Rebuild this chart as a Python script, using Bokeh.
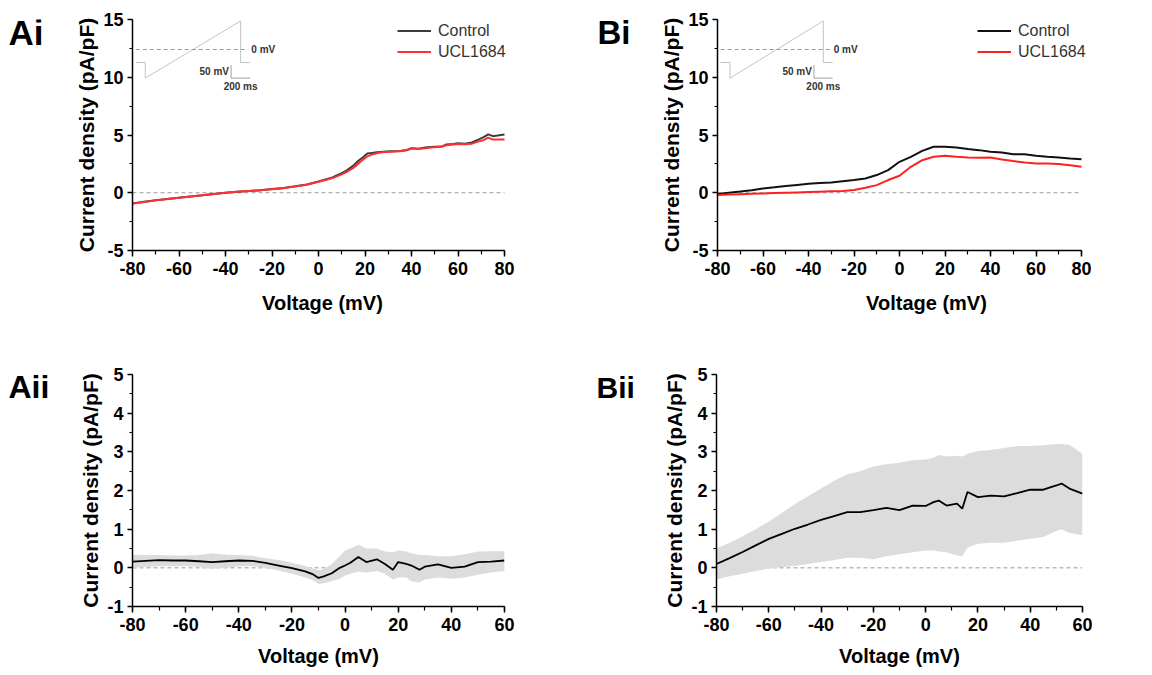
from bokeh.plotting import figure
from bokeh.layouts import column, row
from bokeh.models import Label, SingleIntervalTicker, PrintfTickFormatter
from bokeh.embed import file_html
from bokeh.resources import INLINE

FONT = "Liberation Sans"

# ---------------- data ----------------
# Panel Ai : voltage (mV) and current density (pA/pF)
ai_v = [-80, -75, -70, -65, -60, -55, -50, -45, -40, -35, -30, -25, -20, -15, -10, -5, 0, 3, 6, 9,
        12, 15, 17, 19, 21, 23, 25, 28, 31, 35, 38, 40, 43, 46, 50, 53, 55, 58, 60, 63, 66, 69,
        71, 73, 75, 77, 80]
ai_control = [-0.92, -0.78, -0.65, -0.54, -0.43, -0.32, -0.22, -0.1, 0.0, 0.08, 0.15, 0.22, 0.32,
              0.42, 0.56, 0.72, 0.98, 1.15, 1.32, 1.6, 1.92, 2.35, 2.75, 3.05, 3.4, 3.45, 3.5,
              3.55, 3.6, 3.62, 3.7, 3.85, 3.82, 3.92, 3.98, 4.0, 4.18, 4.22, 4.28, 4.25, 4.35,
              4.62, 4.82, 5.05, 4.9, 4.95, 5.05]
ai_ucl = [-0.95, -0.8, -0.66, -0.55, -0.44, -0.33, -0.22, -0.11, 0.0, 0.08, 0.15, 0.22, 0.31,
          0.4, 0.54, 0.7, 0.95, 1.1, 1.27, 1.5, 1.78, 2.15, 2.5, 2.85, 3.15, 3.3, 3.42, 3.52,
          3.55, 3.6, 3.68, 3.85, 3.78, 3.85, 3.95, 3.98, 4.12, 4.18, 4.22, 4.2, 4.25, 4.45,
          4.55, 4.78, 4.6, 4.62, 4.62]

# Panel Bi
bi_v = [-80, -75, -70, -65, -60, -55, -50, -45, -40, -35, -30, -25, -20, -15, -10, -5, 0,
        5, 10, 15, 20, 25, 30, 35, 40, 45, 50, 55, 60, 65, 70, 75, 80]
bi_control = [-0.1, 0.0, 0.1, 0.22, 0.37, 0.47, 0.58, 0.68, 0.78, 0.84, 0.89, 1.0, 1.1, 1.24,
              1.53, 1.96, 2.68, 3.11, 3.63, 3.98, 3.98, 3.92, 3.78, 3.69, 3.54, 3.49, 3.34,
              3.34, 3.2, 3.11, 3.05, 2.97, 2.91]
bi_ucl = [-0.2, -0.15, -0.12, -0.09, -0.06, -0.03, 0.0, 0.03, 0.06, 0.09, 0.12, 0.15, 0.23,
          0.43, 0.66, 1.1, 1.47, 2.25, 2.82, 3.11, 3.2, 3.11, 3.05, 3.03, 3.05, 2.88, 2.74,
          2.62, 2.54, 2.54, 2.48, 2.39, 2.25]

# Panel Aii : difference current, mean and SEM band
aii_v = [-80, -75, -70, -65, -60, -55, -50, -45, -40, -35, -30, -25, -20, -15, -12, -10, -8,
         -5, -2, 0, 2, 5, 8, 12, 15, 18, 20, 23, 25, 28, 30, 35, 40, 45, 50, 55, 60]
aii_mean = [0.16, 0.18, 0.2, 0.19, 0.19, 0.17, 0.15, 0.17, 0.19, 0.18, 0.13, 0.06, -0.01, -0.09,
            -0.17, -0.26, -0.22, -0.14, 0.0, 0.06, 0.13, 0.28, 0.15, 0.22, 0.1, -0.05, 0.15,
            0.1, 0.06, -0.05, 0.03, 0.09, 0.0, 0.03, 0.15, 0.16, 0.19]
aii_upper = [0.33, 0.33, 0.33, 0.32, 0.32, 0.33, 0.38, 0.34, 0.33, 0.31, 0.25, 0.2, 0.13, 0.05,
             -0.02, -0.06, -0.03, 0.1, 0.3, 0.45, 0.5, 0.6, 0.5, 0.5, 0.42, 0.4, 0.45, 0.42,
             0.38, 0.33, 0.33, 0.3, 0.3, 0.35, 0.42, 0.43, 0.43]
aii_lower = [0.0, 0.02, 0.04, 0.04, 0.04, 0.02, -0.03, 0.0, 0.04, 0.04, 0.0, -0.07, -0.15,
             -0.25, -0.32, -0.42, -0.4, -0.35, -0.28, -0.2, -0.15, -0.1, -0.12, -0.08, -0.15,
             -0.3, -0.25, -0.25, -0.35, -0.38, -0.3, -0.25, -0.28, -0.25, -0.18, -0.12, -0.08]

# Panel Bii
bii_v = [-80, -75, -70, -65, -60, -55, -50, -45, -40, -35, -30, -25, -20, -15, -10, -5, 0, 3,
         5, 8, 12, 14, 16, 20, 25, 30, 35, 40, 45, 50, 52, 55, 60]
bii_mean = [0.1, 0.25, 0.41, 0.58, 0.75, 0.88, 1.01, 1.12, 1.24, 1.34, 1.44, 1.44, 1.49, 1.55,
            1.49, 1.61, 1.6, 1.7, 1.74, 1.61, 1.66, 1.53, 1.96, 1.83, 1.87, 1.85, 1.93, 2.02,
            2.02, 2.13, 2.18, 2.05, 1.92]
bii_upper = [0.5, 0.65, 0.82, 1.0, 1.2, 1.42, 1.65, 1.85, 2.05, 2.25, 2.42, 2.5, 2.62, 2.68,
             2.72, 2.78, 2.8, 2.85, 2.92, 2.88, 2.9, 2.88, 2.95, 3.02, 3.05, 3.1, 3.15, 3.15,
             3.17, 3.2, 3.2, 3.18, 2.95]
bii_lower = [-0.3, -0.22, -0.15, -0.08, -0.02, 0.02, 0.05, 0.1, 0.15, 0.2, 0.26, 0.26, 0.22,
             0.3, 0.35, 0.4, 0.45, 0.45, 0.42, 0.4, 0.32, 0.3, 0.52, 0.62, 0.65, 0.65, 0.7,
             0.75, 0.8, 0.95, 1.0, 0.9, 0.84]

# Voltage protocol shown in the insets (time in ms, voltage in mV)
proto_t = [0, 100, 100, 1100, 1100, 1200]
proto_v = [-50, -50, -110, 110, -50, -50]
scalebar_t = [1000, 1000, 1200]
scalebar_v = [-60, -110, -110]

panel_labels = ["Ai", "Bi", "Aii", "Bii"]
series_names = ["Control", "UCL1684"]
y_label = "Current density (pA/pF)"
x_label = "Voltage (mV)"

top_x = (-80, 80)
top_y = (-5, 15)
bot_x = (-80, 60)
bot_y = (-1, 5)


def make_fig(width, height, left, right, top, bottom, xbounds, xend, yr, yint, xstandoff):
    p = figure(width=width, height=height, x_range=(xbounds[0], xend), y_range=yr,
               output_backend="svg", toolbar_location=None,
               min_border_left=left, min_border_right=right,
               min_border_top=top, min_border_bottom=bottom)
    p.outline_line_color = None
    p.grid.visible = False
    p.background_fill_color = "white"
    p.border_fill_color = "white"
    p.xaxis.bounds = xbounds
    p.xaxis.ticker = SingleIntervalTicker(interval=20, num_minor_ticks=2)
    p.yaxis.ticker = SingleIntervalTicker(interval=yint, num_minor_ticks=2)
    for ax in (p.xaxis, p.yaxis):
        ax.formatter = PrintfTickFormatter(format="%d")
        ax.axis_line_width = 1.5
        ax.axis_line_color = "black"
        ax.major_tick_line_width = 1.5
        ax.minor_tick_line_width = 1.2
        ax.major_tick_line_color = "black"
        ax.minor_tick_line_color = "black"
        ax.major_tick_in = 0
        ax.minor_tick_in = 0
        ax.major_label_text_font = FONT
        ax.major_label_text_font_style = "bold"
        ax.major_label_text_font_size = "18px"
        ax.major_label_text_color = "black"
        ax.axis_label_text_font = FONT
        ax.axis_label_text_font_style = "bold"
        ax.axis_label_text_color = "black"
    p.xaxis.axis_label_text_font_size = "20px"
    p.yaxis.axis_label_text_font_size = "21px"
    p.xaxis.major_tick_out = 6
    p.xaxis.minor_tick_out = 4
    p.yaxis.major_tick_out = 5
    p.yaxis.minor_tick_out = 3
    p.xaxis.major_label_standoff = 5
    p.yaxis.major_label_standoff = 4
    p.xaxis.axis_label = x_label
    p.yaxis.axis_label = y_label
    p.xaxis.axis_label_standoff = xstandoff
    p.yaxis.axis_label_standoff = 2
    # dashed zero reference line across the axis span
    p.line(list(xbounds), [0, 0], line_color="#9a9a9a", line_dash="4 3", line_width=1)
    return p


def label_fig(width, height, text, x_px, y_px, size):
    # a bare figure holding only the panel letter; the text is anchored at the
    # top-left corner of its range and shifted by screen-pixel offsets
    f = figure(width=width, height=height, x_range=(0, 1), y_range=(0, 1),
               output_backend="svg", toolbar_location=None, min_border=0,
               x_axis_location=None, y_axis_location=None)
    f.grid.visible = False
    f.outline_line_color = None
    f.add_layout(Label(x=0, y=1, x_offset=x_px, y_offset=y_px, text=text,
                       text_font=FONT, text_font_style="bold", text_font_size=size,
                       text_color="black", text_baseline="alphabetic", text_align="left"))
    return f


def add_inset(p):
    x0, xs = -78.6, 0.041    # data x of protocol start, data units per ms
    y0, ys = 12.4, 0.0225    # data y of 0 mV, data units per mV
    X = [x0 + t * xs for t in proto_t]
    Y = [y0 + v * ys for v in proto_v]
    p.line(X, Y, line_color="#c4c4c4", line_width=1)
    p.line([x0, x0 + 1180 * xs], [y0, y0], line_color="#9a9a9a", line_width=1, line_dash="4 3")
    p.line([x0 + t * xs for t in scalebar_t], [y0 + v * ys for v in scalebar_v],
           line_color="#a0a0a0", line_width=1)
    common = dict(text_font=FONT, text_font_style="bold", text_font_size="10px",
                  text_color="#333333", text_baseline="middle")
    p.add_layout(Label(x=x0 + 1212 * xs, y=y0, text="0 mV", text_align="left", **common))
    p.add_layout(Label(x=x0 + 978 * xs, y=y0 - 85 * ys, text="50 mV", text_align="right", **common))
    p.add_layout(Label(x=x0 + 1100 * xs, y=y0 - 142 * ys, text="200 ms", text_align="center", **common))


def style_legend(p, lx, ly):
    lg = p.legend[0]
    lg.location = (lx, ly)
    lg.padding = 0
    lg.margin = 0
    lg.spacing = 0
    lg.border_line_color = None
    lg.background_fill_alpha = 0
    lg.glyph_width = 34
    lg.glyph_height = 21
    lg.label_height = 21
    lg.label_standoff = 7
    lg.label_text_font = FONT
    lg.label_text_font_size = "16px"
    lg.label_text_color = "#333333"


# ---------------- Ai ----------------
# frame 380 px wide, of which 372 px span -80..80 (extra room for the legend text)
p1 = make_fig(514, 328, 70, 64, 19, 78, top_x, -80 + 160 * 380 / 372, top_y, 5, 14)
add_inset(p1)
p1.line(ai_v, ai_control, line_color="#3c3c3c", line_width=2, legend_label=series_names[0])
p1.line(ai_v, ai_ucl, line_color="#ff3030", line_width=2, legend_label=series_names[1])
style_legend(p1, 265, 188)

# ---------------- Bi ----------------
# frame 418 px wide, of which 364 px span -80..80
p2 = make_fig(514, 328, 81, 15, 19, 78, top_x, -80 + 160 * 418 / 364, top_y, 5, 14)
add_inset(p2)
p2.line(bi_v, bi_control, line_color="#111111", line_width=2, legend_label=series_names[0])
p2.line(bi_v, bi_ucl, line_color="#ff2020", line_width=2, legend_label=series_names[1])
style_legend(p2, 260, 188)

# ---------------- Aii ----------------
p3 = make_fig(514, 345, 70, 72, 46, 67, bot_x, bot_x[1], bot_y, 1, 11)
p3.varea(x=aii_v, y1=aii_lower, y2=aii_upper, fill_color="#dcdcdc")
p3.line(aii_v, aii_mean, line_color="black", line_width=1.8)

# ---------------- Bii ----------------
p4 = make_fig(512, 345, 78, 68, 46, 67, bot_x, bot_x[1], bot_y, 1, 11)
p4.varea(x=bii_v, y1=bii_lower, y2=bii_upper, fill_color="#dcdcdc")
p4.line(bii_v, bii_mean, line_color="black", line_width=1.8)

la1 = label_fig(62, 328, panel_labels[0], 8, -12.5, "35px")
lb1 = label_fig(60, 328, panel_labels[1], 21, -12.5, "33px")
la2 = label_fig(62, 345, panel_labels[2], 8, -12.5, "32px")
lb2 = label_fig(62, 345, panel_labels[3], 20, -12.5, "30px")

layout = column(row(la1, p1, lb1, p2), row(la2, p3, lb2, p4))
open("out.html", "w").write(file_html(layout, INLINE))
